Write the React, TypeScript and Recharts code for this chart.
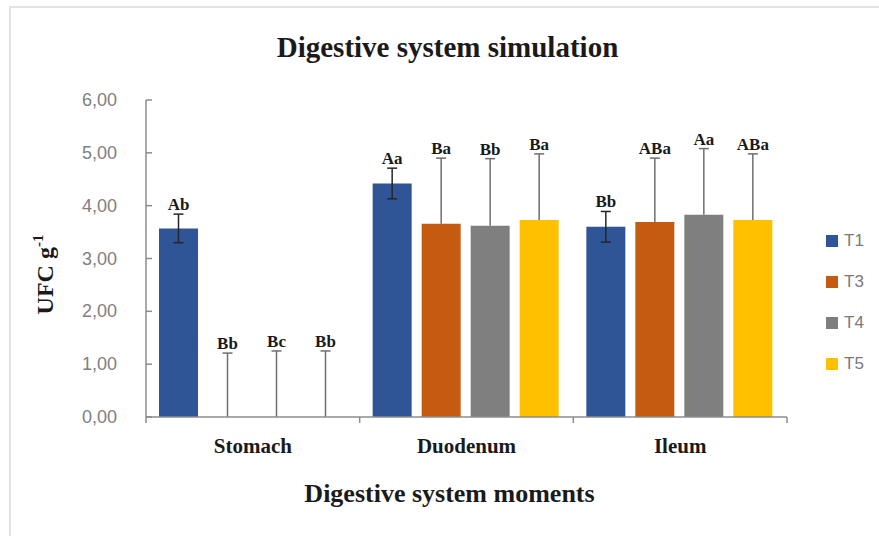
import React from "react";
import { BarChart, Bar, XAxis, YAxis, ErrorBar, LabelList, Legend } from "recharts";

const MOMENTS = ["Stomach", "Duodenum", "Ileum"];
const SERIES = ["T1", "T3", "T4", "T5"];
const COLORS = ["#2f5597", "#c55a11", "#7f7f7f", "#ffc000"];

const T1 = [3.57, 4.42, 3.6];
const T3 = [0, 3.66, 3.69];
const T4 = [0, 3.62, 3.83];
const T5 = [0, 3.73, 3.73];

const T1_ERR = [0.27, 0.29, 0.29];
const T3_ERR = [1.21, 1.24, 1.21];
const T4_ERR = [1.25, 1.27, 1.25];
const T5_ERR = [1.25, 1.25, 1.25];

const T1_LETTERS = ["Ab", "Aa", "Bb"];
const T3_LETTERS = ["Bb", "Ba", "ABa"];
const T4_LETTERS = ["Bc", "Bb", "Aa"];
const T5_LETTERS = ["Bb", "Ba", "ABa"];

const Y_TICKS = [0, 1, 2, 3, 4, 5, 6];

const values = [T1, T3, T4, T5];
const errs = [T1_ERR, T3_ERR, T4_ERR, T5_ERR];
const letters = [T1_LETTERS, T3_LETTERS, T4_LETTERS, T5_LETTERS];

// the "top" key is stacked on the value bar: it spans the upper error range
const data = MOMENTS.map((m, i) => {
  const row: Record<string, unknown> = { moment: m };
  SERIES.forEach((s, k) => {
    row[s] = values[k][i];
    row[s + "err"] = errs[k][i];
    row[s + "top"] = errs[k][i];
    row[s + "lbl"] = letters[k][i];
  });
  return row;
});

const SERIF = "'Liberation Serif', 'Times New Roman', serif";
const SANS = "'Liberation Sans', Arial, sans-serif";
const AXIS = "#8c8c8c";

function YTick(props: any) {
  const { x, y, payload } = props;
  return (
    <g>
      <line x1={x + 29} x2={x + 35} y1={y} y2={y} stroke={AXIS} strokeWidth={1.5} />
      <text x={x} y={y} dy={6} textAnchor="end" fontFamily={SANS} fontSize={18} fill="#808080">
        {Number(payload.value).toFixed(2).replace(".", ",")}
      </text>
    </g>
  );
}

function XTick(props: any) {
  const { x, y, payload, index, visibleTicksCount } = props;
  const half = payload.offset ?? 107;
  return (
    <g>
      <line x1={x - half} x2={x - half} y1={y} y2={y + 6} stroke={AXIS} strokeWidth={1.5} />
      {index === visibleTicksCount - 1 && (
        <line x1={x + half} x2={x + half} y1={y} y2={y + 6} stroke={AXIS} strokeWidth={1.5} />
      )}
      <text x={x} y={y} dy={36} textAnchor="middle" fontFamily={SERIF} fontWeight="bold" fontSize={21} fill="#1a1a1a">
        {payload.value}
      </text>
    </g>
  );
}

function YLabel(props: any) {
  const vb = props.viewBox;
  const cx = vb.x - 30;
  const cy = vb.y + vb.height / 2 + 16;
  return (
    <text
      x={cx}
      y={cy}
      transform={`rotate(-90, ${cx}, ${cy})`}
      textAnchor="middle"
      fontFamily={SERIF}
      fontWeight="bold"
      fontSize={24}
      fill="#1a1a1a"
    >
      UFC g<tspan fontSize={15} dy={-10}>-1</tspan>
    </text>
  );
}

// one-sided whisker drawn over the upper error range
function Whisker(props: any) {
  const { x, y, width, height } = props;
  if (height == null || width == null) return null;
  const cx = x + width / 2;
  return (
    <g>
      <line x1={cx} x2={cx} y1={y} y2={y + height} stroke="#6e6e6e" strokeWidth={1.5} />
      <line x1={cx - 5} x2={cx + 5} y1={y} y2={y} stroke="#6e6e6e" strokeWidth={1.5} />
    </g>
  );
}

function renderLegend(props: any) {
  const items = (props.payload || []).filter((p: any) => SERIES.includes(p.value));
  return (
    <div>
      {items.map((p: any) => (
        <div key={p.value} style={{ display: "flex", alignItems: "center", height: 41 }}>
          <span style={{ width: 12, height: 12, background: p.color, display: "inline-block", marginRight: 6 }} />
          <span style={{ fontFamily: SANS, fontSize: 17, color: "#7a7a7a" }}>{p.value}</span>
        </div>
      ))}
    </div>
  );
}

export default function App() {
  return (
    <div style={{ position: "absolute", left: 0, top: 0, width: 879, height: 536, overflow: "hidden", background: "#fff" }}>
      <div style={{ position: "absolute", left: 9, top: 6, width: 920, height: 560, border: "2px solid #e4e4e4" }} />
      <div
        style={{
          position: "absolute", left: 8, top: 32, width: 879, textAlign: "center",
          fontFamily: SERIF, fontWeight: "bold", fontSize: 29, lineHeight: "30px", color: "#1a1a1a",
        }}
      >
        Digestive system simulation
      </div>
      <div
        style={{
          position: "absolute", left: 10, top: 479, width: 879, textAlign: "center",
          fontFamily: SERIF, fontWeight: "bold", fontSize: 26, lineHeight: "30px", color: "#1a1a1a",
        }}
      >
        Digestive system moments
      </div>
      <div style={{ position: "absolute", left: 0, top: 0 }}>
        <BarChart
          width={879}
          height={536}
          data={data}
          margin={{ top: 100, right: 92, bottom: 79, left: 83 }}
          barCategoryGap={13}
          barGap={10}
        >
          <XAxis
            dataKey="moment"
            interval={0}
            axisLine={{ stroke: AXIS, strokeWidth: 1.5 }}
            tickLine={false}
            tickSize={0}
            tickMargin={0}
            height={40}
            tick={<XTick />}
          />
          <YAxis
            type="number"
            domain={[0, 6]}
            ticks={Y_TICKS}
            width={63}
            axisLine={{ stroke: AXIS, strokeWidth: 1.5 }}
            tickLine={false}
            tickSize={0}
            tickMargin={29}
            tick={<YTick />}
            label={<YLabel />}
          />
          <Legend
            layout="vertical"
            align="center"
            verticalAlign="middle"
            wrapperStyle={{ left: 826, top: 220, width: 60 }}
            content={renderLegend}
          />
          {SERIES.map((s, k) => [
            <Bar key={s} dataKey={s} name={s} stackId={s} fill={COLORS[k]} isAnimationActive={false}>
              {k === 0 && (
                <ErrorBar dataKey={s + "err"} width={5} stroke="#262626" strokeWidth={1.5} direction="y" />
              )}
            </Bar>,
            <Bar
              key={s + "top"}
              dataKey={s + "top"}
              stackId={s}
              fill="transparent"
              legendType="none"
              shape={k === 0 ? undefined : <Whisker />}
              isAnimationActive={false}
            >
              <LabelList
                dataKey={s + "lbl"}
                position="top"
                offset={4}
                fontFamily={SERIF}
                fontWeight="bold"
                fontSize={17}
                fill="#1a1a1a"
              />
            </Bar>,
          ])}
        </BarChart>
      </div>
    </div>
  );
}
